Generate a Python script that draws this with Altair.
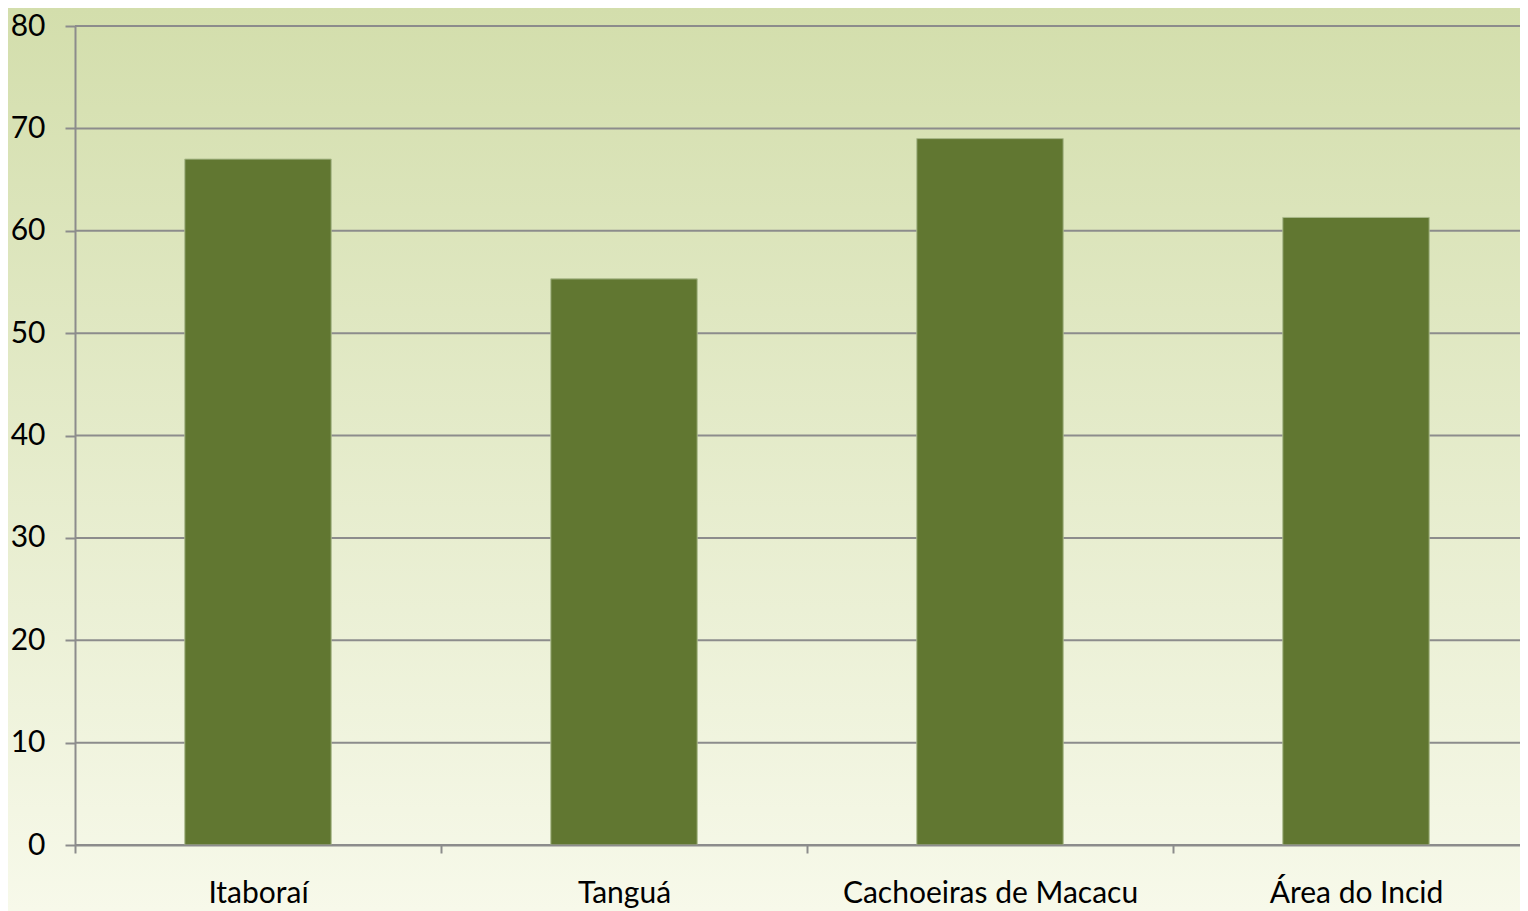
import altair as alt
import pandas as pd

categories = ["Itaboraí", "Tanguá", "Cachoeiras de Macacu", "Área do Incid"]
values = [67.0, 55.3, 69.0, 61.3]
y_ticks = [0, 10, 20, 30, 40, 50, 60, 70, 80]

df = pd.DataFrame({"local": categories, "valor": values})
grid_df = pd.DataFrame({"valor": y_ticks})

W, H = 1464, 819
PAD = {"left": 67, "top": 18, "right": -19, "bottom": 66}
GRAY = "#8c8c8c"
FONT = "Lato"
FS = 30

y_axis = alt.Axis(
    values=y_ticks,
    labelFont=FONT,
    labelFontSize=FS,
    labelColor="#000000",
    labelPadding=20,
    tickSize=10,
    tickColor=GRAY,
    tickWidth=2,
    domainColor=GRAY,
    domainWidth=2,
    grid=False,
    zindex=1,
)
y_scale = alt.Scale(domain=[0, 80], nice=False)

bg = alt.Chart(pd.DataFrame({"a": [0]})).mark_rect(
    color=alt.LinearGradient(
        gradient="linear",
        stops=[
            alt.GradientStop(color="#d3deac", offset=0),
            alt.GradientStop(color="#f7f9ea", offset=1),
        ],
        x1=0, x2=0, y1=0, y2=1,
    ),
    clip=False,
).encode(
    x=alt.value(-PAD["left"]),
    x2=alt.value(W + PAD["right"]),
    y=alt.value(-PAD["top"]),
    y2=alt.value(H + PAD["bottom"]),
)

grid = alt.Chart(grid_df).mark_rule(color=GRAY, strokeWidth=2).encode(
    y=alt.Y("valor:Q", scale=y_scale, axis=y_axis, title=None),
)

bars = alt.Chart(df).mark_bar(
    color="#617731", stroke="#a9b98a", strokeWidth=1,
    width=alt.RelativeBandSize(0.4),
).encode(
    x=alt.X(
        "local:N",
        sort=categories,
        title=None,
        scale=alt.Scale(paddingInner=0, paddingOuter=0),
        axis=alt.Axis(
            labelAngle=0,
            labelFont=FONT,
            labelFontSize=FS,
            labelColor="#000000",
            labelPadding=25,
            labelLimit=0,
            tickBand="extent",
            tickSize=8,
            tickColor=GRAY,
            tickWidth=2,
            domainColor=GRAY,
            domainWidth=2,
            grid=False,
            zindex=1,
        ),
    ),
    y=alt.Y("valor:Q", scale=y_scale, axis=y_axis, title=None),
)

chart = alt.layer(bg, grid, bars).properties(
    width=W,
    height=H,
    padding=PAD,
    autosize=alt.AutoSizeParams(type="none"),
    background="#f7f9ea",
).configure_view(stroke=None)

chart.save("out.html", embed_options={"renderer": "svg", "actions": False})
